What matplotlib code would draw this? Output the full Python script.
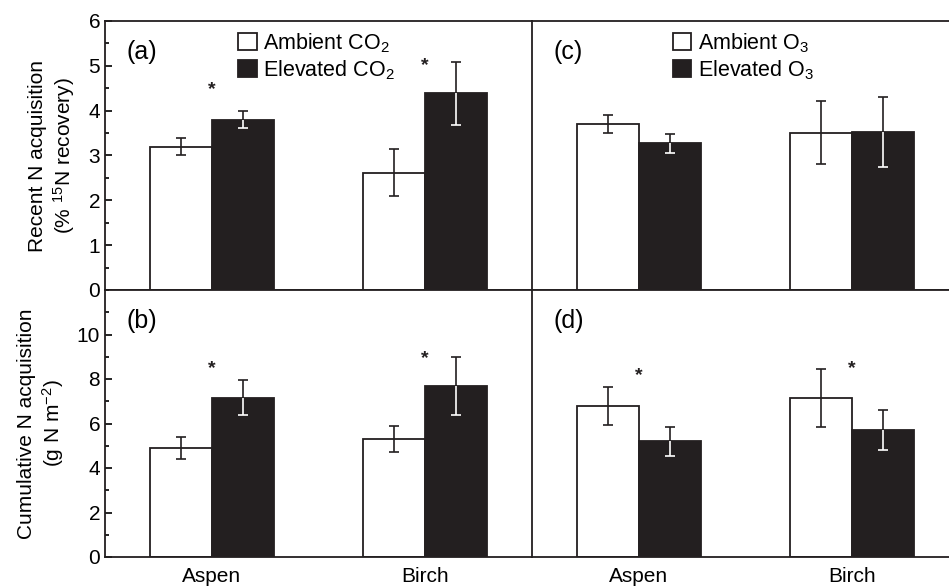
import numpy as np
import matplotlib
matplotlib.use("Agg")
import matplotlib.pyplot as plt
from matplotlib.patches import Patch
from matplotlib.ticker import MultipleLocator

plt.rcParams['font.family'] = ['Liberation Sans', 'DejaVu Sans']
plt.rcParams['mathtext.fontset'] = 'custom'
plt.rcParams['mathtext.rm'] = 'Liberation Sans'
plt.rcParams['mathtext.it'] = 'Liberation Sans'

species = ["Aspen", "Birch"]

# (a) Recent N acquisition, CO2
a_amb = [3.20, 2.62]
a_amb_err = [0.19, 0.52]
a_ele = [3.80, 4.39]
a_ele_err = [0.19, 0.70]

# (c) Recent N acquisition, O3
c_amb = [3.71, 3.51]
c_amb_err = [0.20, 0.71]
c_ele = [3.27, 3.53]
c_ele_err = [0.22, 0.78]

# (b) Cumulative N acquisition, CO2
b_amb = [4.90, 5.29]
b_amb_err = [0.50, 0.58]
b_ele = [7.16, 7.68]
b_ele_err = [0.80, 1.30]

# (d) Cumulative N acquisition, O3
d_amb = [6.80, 7.13]
d_amb_err = [0.85, 1.30]
d_ele = [5.20, 5.71]
d_ele_err = [0.64, 0.90]

# significance stars: (group index, y)
a_stars = [(0, 4.46), (1, 5.0)]
b_stars = [(0, 8.47), (1, 8.94)]
d_stars = [(0, 8.16), (1, 8.46)]

DARK = '#231f20'
FS = 15

fig = plt.figure(figsize=(9.49, 5.87), dpi=100)
L1, L2, W = 105/949, 532/949, 427/949
B_top, H_top = 1 - 290/587, (290-21)/587
B_bot, H_bot = 1 - 557/587, (557-290)/587

ax_a = fig.add_axes([L1, B_top, W, H_top])
ax_c = fig.add_axes([L2, B_top, W, H_top])
ax_b = fig.add_axes([L1, B_bot, W, H_bot])
ax_d = fig.add_axes([L2, B_bot, W, H_bot])

x = np.arange(len(species))
w = 0.29
EB = dict(fmt='none', elinewidth=1.2, capsize=3.5, capthick=1.2, zorder=3)


def draw(ax, amb, amb_err, ele, ele_err, ylim, major, minor, stars, label, ylab):
    ax.bar(x - w/2, amb, w, color='white', edgecolor=DARK, linewidth=1.3, zorder=2)
    ax.bar(x + w/2, ele, w, color=DARK, edgecolor=DARK, linewidth=1.3, zorder=2)
    ax.errorbar(x - w/2, amb, yerr=amb_err, ecolor=DARK, **EB)
    ele_arr = np.array(ele_err)
    zeros = np.zeros_like(ele_arr)
    # upper part above the dark bar: black, no cap at the bar top
    eb_up = ax.errorbar(x + w/2, ele, yerr=[zeros, ele_arr], ecolor=DARK, **EB)
    eb_up[1][0].set_visible(False)
    # lower part inside the dark bar: white, cap only at the bottom
    eb_lo = ax.errorbar(x + w/2, ele, yerr=[ele_arr, zeros], ecolor='white', **EB)
    eb_lo[1][1].set_visible(False)
    for gi, sy in stars:
        ax.text(x[gi], sy, '*', ha='center', va='center', fontsize=14,
                fontweight='bold', color=DARK)
    ax.set_xlim(-0.5, 1.5)
    ax.set_ylim(*ylim)
    ax.yaxis.set_major_locator(MultipleLocator(major))
    ax.yaxis.set_minor_locator(MultipleLocator(minor))
    ax.tick_params(axis='y', which='both', direction='in', labelsize=FS, width=1.2)
    ax.tick_params(axis='y', which='major', length=5)
    ax.tick_params(axis='y', which='minor', length=3)
    ax.tick_params(axis='x', length=0, labelsize=FS, pad=7)
    ax.spines['right'].set_visible(False)
    for s in ['left', 'top', 'bottom']:
        ax.spines[s].set_linewidth(1.3)
        ax.spines[s].set_color(DARK)
    ax.text(0.05, 0.885, label, transform=ax.transAxes, fontsize=18,
            ha='left', va='center')
    if ylab:
        ax.set_ylabel(ylab, fontsize=FS, labelpad=8, linespacing=1.2)


draw(ax_a, a_amb, a_amb_err, a_ele, a_ele_err, (0, 6), 1, 0.5, a_stars, '(a)',
     'Recent N acquisition\n(% $\\mathregular{^{15}}$N recovery)')
draw(ax_c, c_amb, c_amb_err, c_ele, c_ele_err, (0, 6), 1, 0.5, [], '(c)', None)
draw(ax_b, b_amb, b_amb_err, b_ele, b_ele_err, (0, 12), 2, 1, b_stars, '(b)',
     'Cumulative N acquisition\n(g N m$\\mathregular{^{-2}}$)')
draw(ax_d, d_amb, d_amb_err, d_ele, d_ele_err, (0, 12), 2, 1, d_stars, '(d)', None)

ax_a.set_xticks(x)
ax_a.set_xticklabels([])
ax_c.set_xticks(x)
ax_c.set_xticklabels([])
ax_b.set_xticks(x)
ax_b.set_xticklabels(species)
ax_d.set_xticks(x)
ax_d.set_xticklabels(species)
ax_b.set_yticks([0, 2, 4, 6, 8, 10])
ax_b.set_ylim(0, 12)
for ax in (ax_c, ax_d):
    ax.tick_params(axis='y', which='both', left=False, labelleft=False)

LEG = dict(loc='upper left', frameon=False, fontsize=15.5, handlelength=0.85,
           handleheight=0.85, handletextpad=0.3, labelspacing=0.15,
           borderaxespad=0, borderpad=0)
h_co2 = [Patch(facecolor='white', edgecolor=DARK, linewidth=1.3, label='Ambient CO$_2$'),
         Patch(facecolor=DARK, edgecolor=DARK, linewidth=1.3, label='Elevated CO$_2$')]
ax_a.legend(handles=h_co2, bbox_to_anchor=(0.312, 0.962), **LEG)
h_o3 = [Patch(facecolor='white', edgecolor=DARK, linewidth=1.3, label='Ambient O$_3$'),
        Patch(facecolor=DARK, edgecolor=DARK, linewidth=1.3, label='Elevated O$_3$')]
ax_c.legend(handles=h_o3, bbox_to_anchor=(0.33, 0.962), **LEG)

fig.savefig('out.png', dpi=100)
